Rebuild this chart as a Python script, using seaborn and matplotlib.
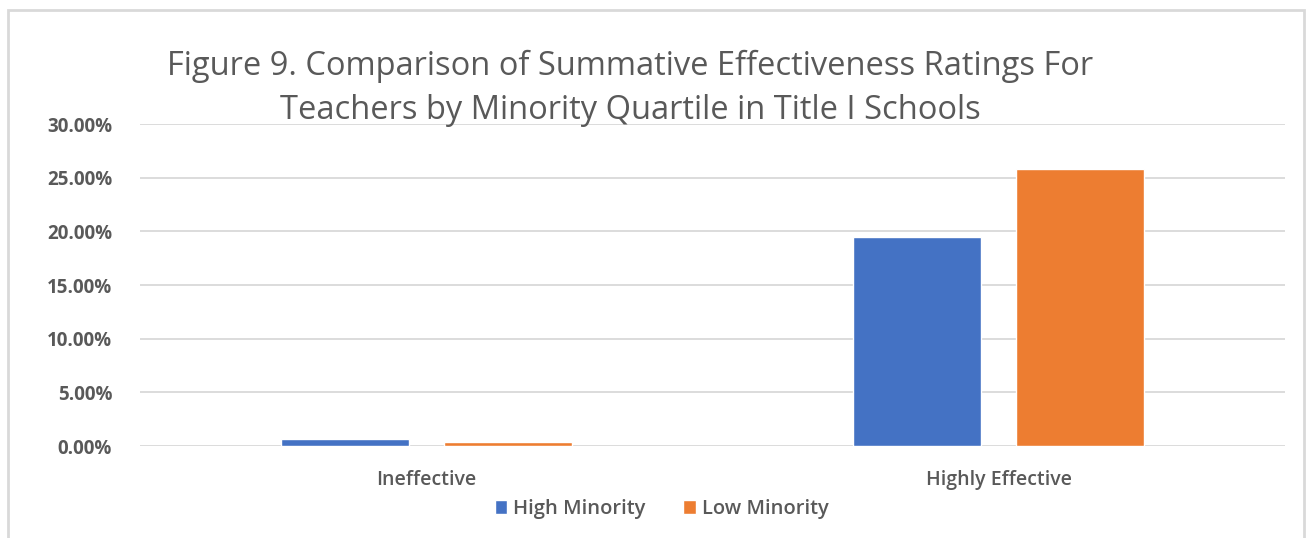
import matplotlib
matplotlib.use("Agg")
import matplotlib.pyplot as plt
from matplotlib.patches import Rectangle
from matplotlib.ticker import FuncFormatter
import seaborn as sns
import pandas as pd

# Share of teachers in each summative rating, by minority quartile (Title I schools)
categories = ["Ineffective", "Highly Effective"]
groups = ["High Minority", "Low Minority"]
high_minority = [0.0065, 0.1950]
low_minority = [0.0037, 0.2580]
y_ticks = [0.0, 0.05, 0.10, 0.15, 0.20, 0.25, 0.30]

df = pd.DataFrame({
    "Rating": categories * 2,
    "Group": [groups[0]] * len(categories) + [groups[1]] * len(categories),
    "Share": high_minority + low_minority,
})

sns.set_theme(style="white")
plt.rcParams["font.family"] = ["Open Sans", "DejaVu Sans"]

text_color = "#595959"
grid_color = "#D9D9D9"
palette = {"High Minority": "#4472C4", "Low Minority": "#ED7D31"}

fig = plt.figure(figsize=(13.06, 5.38), dpi=100)
ax = fig.add_axes([0.1072, 0.171, 0.8767, 0.5985])

sns.barplot(data=df, x="Rating", y="Share", hue="Group", order=categories,
            hue_order=groups, palette=palette, width=0.568, gap=0.213,
            saturation=1, ax=ax, legend=True, zorder=3)

ax.set_ylim(0, 0.30)
ax.set_xlim(-0.5, 1.5)
ax.set_yticks(y_ticks)
ax.yaxis.set_major_formatter(FuncFormatter(lambda v, _: f"{v * 100:.2f}%"))
ax.grid(axis="y", color=grid_color, linewidth=1.3, zorder=0)
ax.set_axisbelow(True)
for s in ax.spines.values():
    s.set_visible(False)
ax.set_xlabel("")
ax.set_ylabel("")
ax.tick_params(axis="y", length=0, pad=20, labelsize=13.5, labelcolor=text_color)
ax.tick_params(axis="x", length=0, pad=17, labelsize=14, labelcolor=text_color)
for lab in ax.get_yticklabels():
    lab.set_fontweight("bold")
for lab in ax.get_xticklabels():
    lab.set_fontweight("semibold")

leg = ax.legend(loc="upper center", bbox_to_anchor=(0.4555, -0.108), ncol=2,
                frameon=False, fontsize=14.5, handlelength=0.6, handleheight=0.65,
                handletextpad=0.3, columnspacing=1.9, labelcolor=text_color)
for t in leg.get_texts():
    t.set_fontweight("semibold")

title_kw = dict(ha="center", va="center", fontsize=23.5, color=text_color)
fig.text(0.4825, 0.876, "Figure 9. Comparison of Summative Effectiveness Ratings For", **title_kw)
fig.text(0.4825, 0.794, "Teachers by Minority Quartile in Title I Schools", **title_kw)

# Chart frame
fig.patches.append(Rectangle((8 / 1306, -0.05), 1296 / 1306, 1.05 - 10 / 538,
                             transform=fig.transFigure, fill=False,
                             edgecolor="#D9D9D9", linewidth=2))

fig.savefig("out.png", dpi=100)
